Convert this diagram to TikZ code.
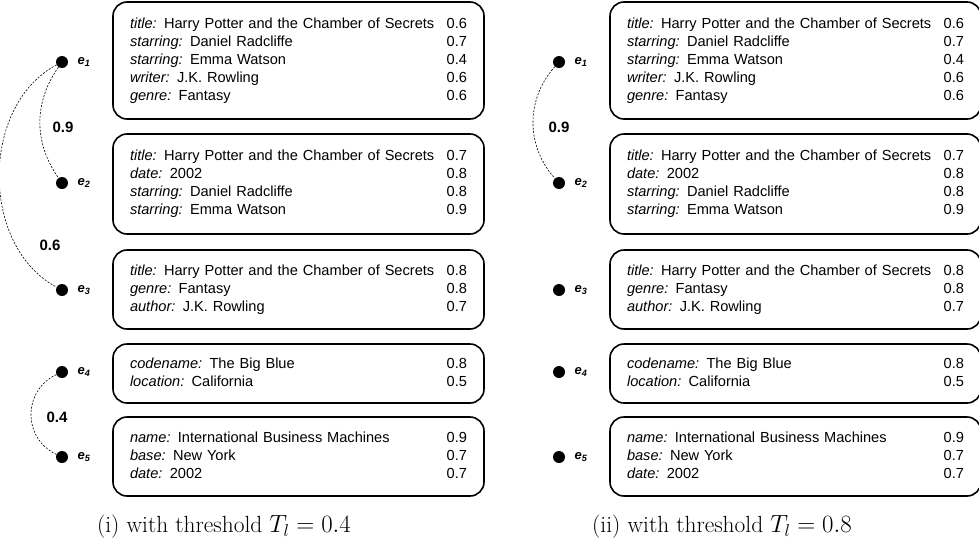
\documentclass[tikz,border=0pt]{standalone}
\usepackage{fontspec}
\setsansfont{Liberation Sans}
\usepackage{tikz}
\usetikzlibrary{positioning}

\tikzset{
  entbox/.style={draw,line width=1.6pt,rounded corners=14pt,text width=337pt,
    inner xsep=17pt,inner ysep=0pt,font=\fontsize{14.6}{18}\selectfont\sffamily},
  ent/.style={circle,fill=black,inner sep=0pt,minimum size=12pt},
  entlabel/.style={anchor=west,font=\fontsize{13}{15}\selectfont\sffamily\bfseries\itshape},
  link/.style={dashed,line width=0.6pt,dash pattern=on 2pt off 1.5pt},
  weight/.style={font=\fontsize{15}{18}\selectfont\sffamily\bfseries}
}
\newcommand{\attr}[3]{{\itshape #1:} #2 & #3 \\}
\newcommand{\attrs}[1]{\begin{tabular*}{\linewidth}{@{}l@{\extracolsep{\fill}}r@{}}#1\end{tabular*}}

% one column of entities with their records
\newcommand{\entities}[2]{%
\begin{scope}[xshift=#2]
\node[entbox,minimum height=117pt] (#1b1) at (298.5,60.5) {\attrs{%
  \attr{title}{Harry Potter and the Chamber of Secrets}{0.6}
  \attr{starring}{Daniel Radcliffe}{0.7}
  \attr{starring}{Emma Watson}{0.4}
  \attr{writer}{J.K. Rowling}{0.6}
  \attr{genre}{Fantasy}{0.6}}};
\node[entbox,minimum height=100pt] (#1b2) at (298.5,184) {\attrs{%
  \attr{title}{Harry Potter and the Chamber of Secrets}{0.7}
  \attr{date}{2002}{0.8}
  \attr{starring}{Daniel Radcliffe}{0.8}
  \attr{starring}{Emma Watson}{0.9}}};
\node[entbox,minimum height=79pt] (#1b3) at (298.5,289.5) {\attrs{%
  \attr{title}{Harry Potter and the Chamber of Secrets}{0.8}
  \attr{genre}{Fantasy}{0.8}
  \attr{author}{J.K. Rowling}{0.7}}};
\node[entbox,minimum height=59pt] (#1b4) at (298.5,373.5) {\attrs{%
  \attr{codename}{The Big Blue}{0.8}
  \attr{location}{California}{0.5}}};
\node[entbox,minimum height=79pt] (#1b5) at (298.5,456.5) {\attrs{%
  \attr{name}{International Business Machines}{0.9}
  \attr{base}{New York}{0.7}
  \attr{date}{2002}{0.7}}};
\foreach \i/\y in {1/62,2/183,3/290,4/372,5/457}{
  \node[ent] (#1\i) at (62,\y) {};
  \node[entlabel] (#1l\i) at (74,\y) {e\textsubscript{\i}};
}
\end{scope}}

\begin{document}
\begin{tikzpicture}[x=1pt,y=-1pt]
\useasboundingbox (0,0) rectangle (979,541);

\entities{a}{0pt}
\entities{b}{497pt}

% links above the threshold
\draw[link] (a1) to[bend right=35] (a2);
\draw[link] (a1) to[bend right=62] (a3);
\draw[link] (a4) to[bend right=65,looseness=1.2] (a5);
\draw[link] (b1) to[bend right=42] (b2);

\node[weight] (w12) at (63,127) {0.9};
\node[weight] (w13) at (50,245) {0.6};
\node[weight] (w45) at (57,417) {0.4};
\node[weight] (v12) at (559,127) {0.9};

\node[font=\fontsize{23.4}{28}\selectfont] (capa) at (224,527) {(i) with threshold $T_l = 0.4$};
\node[font=\fontsize{23.4}{28}\selectfont] (capb) at (722,527) {(ii) with threshold $T_l = 0.8$};
\end{tikzpicture}
\end{document}
